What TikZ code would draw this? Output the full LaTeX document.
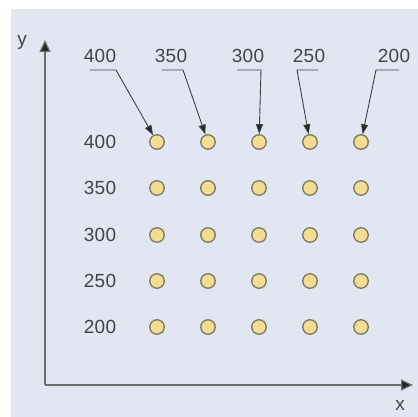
\documentclass[tikz,border=0pt]{standalone}
\usepackage{fontspec}
\setmainfont{Liberation Sans}[LetterSpace=2]
\usetikzlibrary{arrows.meta}
\definecolor{panel}{HTML}{E2E6F2}
\definecolor{dotfill}{HTML}{F3DD92}
\definecolor{dotline}{HTML}{7D7662}
\definecolor{ink}{HTML}{444444}
\definecolor{axisgray}{HTML}{6E6E6E}
\tikzset{
  val/.style={text=ink, font=\fontsize{19}{19}\selectfont, inner sep=0pt},
  spot/.style={circle, draw=dotline, line width=1.3pt, fill=dotfill, minimum size=14.5pt, inner sep=0pt},
  leader/.style={draw=black!75, line width=0.9pt},
  axisline/.style={draw=axisgray, line width=1.2pt, -{Triangle[length=12pt,width=11pt,fill=black!85]}},
}
\begin{document}
\begin{tikzpicture}[x=1pt,y=-1pt]
  \useasboundingbox (0,0) rectangle (418,417);
  \fill[panel] (11,9) rectangle (418,417);

  % axes
  \coordinate (o) at (45,385);
  \coordinate (ytop) at (45,40);
  \coordinate (xend) at (413,385);
  \draw[axisline] (o) -- (ytop);
  \draw[axisline] (o) -- (xend);
  \node[val] (ylab) at (22,42) {y};
  \node[val] (xlab) at (400,405) {x};

  % grid of spots with row labels
  \foreach \r/\yy/\v in {1/142/400, 2/188/350, 3/235/300, 4/281/250, 5/327/200} {
    \node[val] (row\r) at (100,\yy) {\v};
    \foreach \c/\xx in {1/157, 2/208, 3/259, 4/310, 5/361} {
      \node[spot] (s\r\c) at (\xx,\yy) {};
    }
  }

  % column labels with leader lines
  \node[val] (c1) at (100,56) {400};
  \node[val] (c2) at (171,56) {350};
  \node[val] (c3) at (248,56) {300};
  \node[val] (c4) at (309,56) {250};
  \node[val] (c5) at (394,56) {200};

  \coordinate (u1a) at (90,70);  \coordinate (u1b) at (116,70);
  \coordinate (u2a) at (162,70); \coordinate (u2b) at (183,70);
  \coordinate (u3a) at (237,70); \coordinate (u3b) at (261,70);
  \coordinate (u4a) at (297,70); \coordinate (u4b) at (318,70);
  \coordinate (u5a) at (376,70); \coordinate (u5b) at (399,70);

  \tikzset{tip/.style={-{Triangle[length=10pt,width=7pt,fill=black!85]}}}
  \draw[leader, tip] (u1a) -- (u1b) -- (s11);
  \draw[leader, tip] (u2a) -- (u2b) -- (s12);
  \draw[leader, tip] (u3a) -- (u3b) -- (s13);
  \draw[leader, tip] (u4b) -- (u4a) -- (s14);
  \draw[leader, tip] (u5b) -- (u5a) -- (s15);
\end{tikzpicture}
\end{document}
